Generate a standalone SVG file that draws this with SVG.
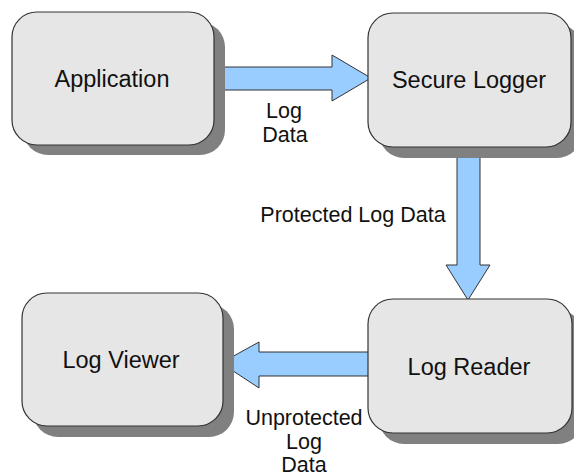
<svg xmlns="http://www.w3.org/2000/svg" width="574" height="476" viewBox="0 0 574 476">
<style>
.shadow{fill:#808080}
.box{fill:#e6e6e6;stroke:#333;stroke-width:1.2}
.arrow{fill:#99ccff;stroke:#333;stroke-width:1}
.nt{font-family:"Liberation Sans",Arial,sans-serif;font-size:23.5px;fill:#111;text-anchor:middle}
.lt{font-family:"Liberation Sans",Arial,sans-serif;font-size:21.5px;fill:#111;text-anchor:middle}
</style>
<rect width="574" height="476" fill="#fff"/>
<g id="connectors">
<polygon class="arrow" points="214,67 332,67 332,55 371,78 332,101 332,90 214,90"/>
<polygon class="arrow" points="457,147 480,147 480,265 490,265 468,300 446,265 457,265"/>
<polygon class="arrow" points="372,352 259,352 259,342 221,363 259,388 259,376 372,376"/>
<text class="lt" x="284" y="118">Log</text>
<text class="lt" x="285" y="142">Data</text>
<text class="lt" x="353" y="222">Protected Log Data</text>
<text class="lt" x="304" y="425">Unprotected</text>
<text class="lt" x="304" y="449">Log</text>
<text class="lt" x="304" y="472">Data</text>
</g>
<g id="application">
<rect class="shadow" x="23" y="22" width="202" height="133" rx="25"/>
<rect class="box" x="12" y="12" width="202" height="133" rx="25"/>
<text class="nt" x="112" y="87">Application</text>
</g>
<g id="secure-logger">
<rect class="shadow" x="379" y="24" width="203" height="134" rx="25"/>
<rect class="box" x="368" y="13" width="203" height="134" rx="25"/>
<text class="nt" x="469" y="88">Secure Logger</text>
</g>
<g id="log-viewer">
<rect class="shadow" x="33" y="304" width="201" height="133" rx="25"/>
<rect class="box" x="22" y="293" width="201" height="133" rx="25"/>
<text class="nt" x="121" y="368">Log Viewer</text>
</g>
<g id="log-reader">
<rect class="shadow" x="379" y="310" width="204" height="134" rx="25"/>
<rect class="box" x="368" y="299" width="204" height="134" rx="25"/>
<text class="nt" x="469" y="375">Log Reader</text>
</g>
</svg>
